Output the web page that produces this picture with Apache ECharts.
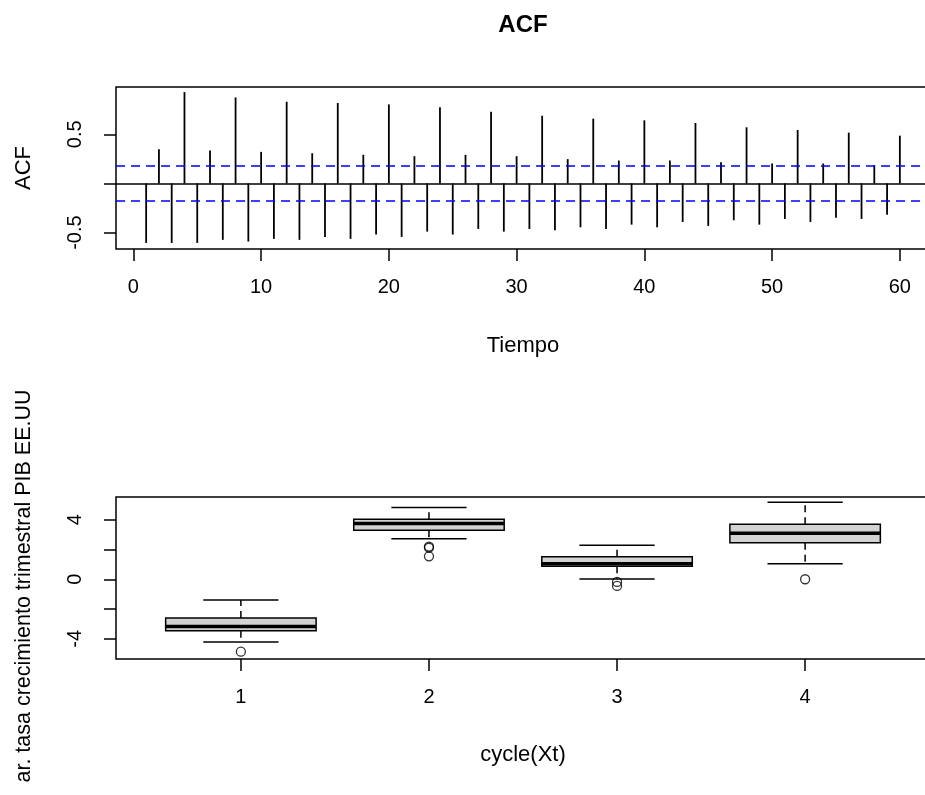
<!DOCTYPE html>
<html><head><meta charset="utf-8">
<script src="https://cdn.jsdelivr.net/npm/echarts@6/dist/echarts.min.js"></script>
<style>html,body{margin:0;padding:0;overflow:hidden;background:#fff;width:925px;height:795px}#c{width:930px;height:795px}</style>
</head><body><div id="c"></div>
<script>
// ---- ACF panel data ----
const lags = [1,2,3,4,5,6,7,8,9,10,11,12,13,14,15,16,17,18,19,20,21,22,23,24,25,26,27,28,29,30,
              31,32,33,34,35,36,37,38,39,40,41,42,43,44,45,46,47,48,49,50,51,52,53,54,55,56,57,58,59,60];
const acfValues = [-0.605,0.348,-0.605,0.929,-0.605,0.334,-0.574,0.875,-0.591,0.321,
                   -0.564,0.831,-0.574,0.307,-0.544,0.818,-0.564,0.291,-0.520,0.804,
                   -0.544,0.277,-0.490,0.774,-0.520,0.291,-0.463,0.730,-0.490,0.277,
                   -0.463,0.689,-0.476,0.247,-0.446,0.659,-0.463,0.233,-0.419,0.642,
                   -0.446,0.233,-0.392,0.615,-0.432,0.216,-0.375,0.571,-0.419,0.203,
                   -0.361,0.544,-0.392,0.203,-0.348,0.517,-0.361,0.186,-0.318,0.486];
const confLimit = 0.176;
const acfXTicks = [0,10,20,30,40,50,60];
const acfYTicks = [-0.5,0,0.5];
const acfYLabels = [-0.5,0.5];

// ---- Boxplot panel data ----
const cycles = ['1','2','3','4'];
// [min (lower whisker), Q1, median, Q3, max (upper whisker)]
const boxStats = [
  [-4.22,-3.46,-3.17,-2.61,-1.39],
  [2.72,3.30,3.75,4.04,4.82],
  [0.02,0.87,1.05,1.52,2.28],
  [1.05,2.45,3.10,3.70,5.18]
];
const outlierCycle = [1,2,2,2,3,3,4];
const outlierValue = [-4.87,2.20,2.12,1.54,-0.18,-0.45,0.0];
const boxYTicks = [-4,-2,0,2,4];
const boxYLabels = [-4,0,4];

const FONT = "'Liberation Sans', Arial, sans-serif";
const chart = echarts.init(document.getElementById('c'), null, {renderer:'canvas'});

const boxData = boxStats.map((s,i)=>[i+1].concat(s));
const outData = outlierCycle.map((c,i)=>[c, outlierValue[i]]);
const acfData = lags.map((l,i)=>[l, acfValues[i]]);

const tickStyle = {color:'#000', fontSize:20, fontFamily:FONT};
const nameStyle = {color:'#000', fontSize:22, fontFamily:FONT, verticalAlign:'middle'};
const noLine = {show:false, onZero:false};

const option = {
  animation:false,
  backgroundColor:'#fff',
  graphic:[
    {type:'text', x:523, y:25, style:{text:'ACF', font:"bold 24px 'Liberation Sans', Arial, sans-serif", fill:'#000', align:'center', verticalAlign:'middle'}},
    {type:'text', x:24, y:586, rotation:Math.PI/2, style:{text:'ar. tasa crecimiento trimestral PIB EE.UU', font:"21.5px 'Liberation Sans', Arial, sans-serif", fill:'#000', align:'center', verticalAlign:'middle'}}
  ],
  grid:[
    {left:116, top:87, width:814, height:162, show:true, borderColor:'#000', borderWidth:1.5, backgroundColor:'transparent'},
    {left:116, top:497, width:814, height:162, show:true, borderColor:'#000', borderWidth:1.5, backgroundColor:'transparent'}
  ],
  xAxis:[
    {gridIndex:0, type:'value', min:-1.36, max:62.36,
     axisLine:noLine, splitLine:{show:false},
     axisTick:{show:true, customValues:acfXTicks, length:12, lineStyle:{color:'#000', width:1.5}},
     axisLabel:Object.assign({customValues:acfXTicks, margin:38, verticalAlign:'middle'}, tickStyle),
     name:'Tiempo', nameLocation:'middle', nameGap:97, nameTextStyle:nameStyle},
    {gridIndex:1, type:'value', min:0.336, max:4.664,
     axisLine:noLine, splitLine:{show:false},
     axisTick:{show:true, customValues:[1,2,3,4], length:12, lineStyle:{color:'#000', width:1.5}},
     axisLabel:Object.assign({customValues:[1,2,3,4], margin:38, verticalAlign:'middle', formatter:v=>cycles[Math.round(v)-1]}, tickStyle),
     name:'cycle(Xt)', nameLocation:'middle', nameGap:96, nameTextStyle:nameStyle}
  ],
  yAxis:[
    {gridIndex:0, type:'value', min:-0.667, max:0.981,
     axisLine:noLine, splitLine:{show:false},
     axisTick:{show:true, customValues:acfYTicks, length:12, lineStyle:{color:'#000', width:1.5}},
     axisLabel:Object.assign({customValues:acfYLabels, margin:41, rotate:90, align:'center', verticalAlign:'middle', formatter:v=>String(v)}, tickStyle),
     name:'ACF', nameLocation:'middle', nameGap:92, nameTextStyle:nameStyle},
    {gridIndex:1, type:'value', min:-5.36, max:5.53,
     axisLine:noLine, splitLine:{show:false},
     axisTick:{show:true, customValues:boxYTicks, length:12, lineStyle:{color:'#000', width:1.5}},
     axisLabel:Object.assign({customValues:boxYLabels, margin:41, rotate:90, align:'center', verticalAlign:'middle', formatter:v=>String(v)}, tickStyle)}
  ],
  series:[
    {type:'custom', xAxisIndex:0, yAxisIndex:0, data:acfData, clip:false,
     renderItem:function(params, api){
       const x = api.value(0), y = api.value(1);
       const p0 = api.coord([x,0]), p1 = api.coord([x,y]);
       return {type:'line', shape:{x1:p0[0], y1:p0[1], x2:p1[0], y2:p1[1]}, style:{stroke:'#000', lineWidth:1.8}};
     },
     markLine:{silent:true, symbol:'none', label:{show:false}, animation:false,
       data:[
         {yAxis:0, lineStyle:{color:'#000', width:1.5, type:'solid'}},
         {yAxis:confLimit, lineStyle:{color:'#0000FF', width:1.5, type:[9,6]}},
         {yAxis:-confLimit, lineStyle:{color:'#0000FF', width:1.5, type:[9,6]}}
       ]}
    },
    {type:'custom', xAxisIndex:1, yAxisIndex:1, data:boxData,
     encode:{x:0, y:[1,2,3,4,5]},
     renderItem:function(params, api){
       const x = api.value(0);
       const halfW = api.size([0.4,0])[0];
       const stapleHalf = api.size([0.2,0])[0];
       const c = v=>api.coord([x,v]);
       const pMin=c(api.value(1)), pQ1=c(api.value(2)), pMed=c(api.value(3)), pQ3=c(api.value(4)), pMax=c(api.value(5));
       const cx = pMin[0];
       const dash = {stroke:'#000', lineWidth:1.5, lineDash:[7,5]};
       const solid = {stroke:'#000', lineWidth:1.5};
       return {type:'group', children:[
         {type:'line', shape:{x1:cx, y1:pQ3[1], x2:cx, y2:pMax[1]}, style:dash},
         {type:'line', shape:{x1:cx, y1:pQ1[1], x2:cx, y2:pMin[1]}, style:dash},
         {type:'line', shape:{x1:cx-stapleHalf, y1:pMax[1], x2:cx+stapleHalf, y2:pMax[1]}, style:solid},
         {type:'line', shape:{x1:cx-stapleHalf, y1:pMin[1], x2:cx+stapleHalf, y2:pMin[1]}, style:solid},
         {type:'rect', shape:{x:cx-halfW, y:pQ3[1], width:2*halfW, height:pQ1[1]-pQ3[1]}, style:{fill:'#D3D3D3', stroke:'#000', lineWidth:1.5}},
         {type:'line', shape:{x1:cx-halfW, y1:pMed[1], x2:cx+halfW, y2:pMed[1]}, style:{stroke:'#000', lineWidth:3.5}}
       ]};
     }
    },
    {type:'scatter', xAxisIndex:1, yAxisIndex:1, data:outData, symbol:'circle', symbolSize:9,
     itemStyle:{color:'rgba(0,0,0,0)', borderColor:'#000', borderWidth:1.3}}
  ]
};
chart.setOption(option);
</script>
</body></html>
